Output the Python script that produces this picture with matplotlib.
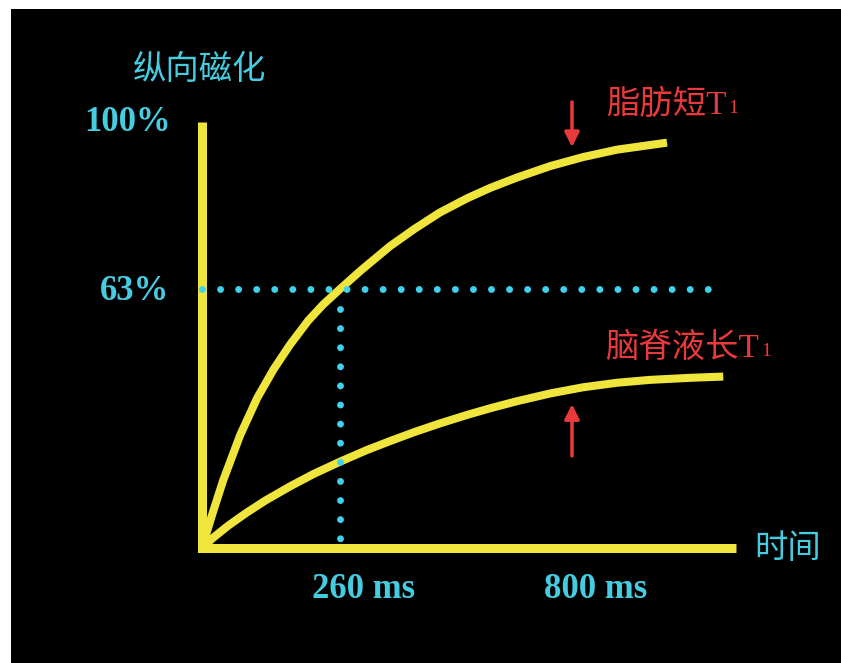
import matplotlib
matplotlib.use("Agg")
import matplotlib.pyplot as plt
from matplotlib.patches import Rectangle

# Longitudinal magnetisation recovery (time in ms, magnetisation in %)
fat_t = [0, 20, 40, 72, 104, 135, 166, 200, 228, 260, 300, 354, 400, 448,
         500, 543, 593, 656, 718, 782, 876]
fat_m = [0, 8.5, 16.5, 27.5, 36.5, 43.5, 49.5, 55.3, 59.2, 63, 67.6, 73.4, 77.6, 81.6,
         85.1, 87.6, 90.1, 92.9, 95.1, 96.9, 98.6]

csf_t = [0, 20, 50, 84, 120, 166, 210, 260, 310, 354, 400, 448, 500, 543,
         593, 656, 718, 782, 844, 920, 982]
csf_m = [0, 2.4, 5.5, 8.6, 11.6, 15.0, 18.0, 21.0, 23.8, 26.0, 28.2, 30.3, 32.4, 34.0,
         35.7, 37.6, 39.1, 40.2, 40.9, 41.4, 41.7]

t1_fat = 260          # ms, marked on the time axis
ref_level = 63        # %, 1 - 1/e
axis_top = 103.6
axis_end = 1006
ref_end = 963

y_label = "纵向磁化"
x_label = "时间"
tick_labels = ["100%", "63%", "260 ms", "800 ms"]
fat_label = "脂肪短T"
csf_label = "脑脊液长T"

YELLOW = "#F0E53C"
CYAN = "#45CCE0"
DOT = "#3ED2EE"
RED = "#E8393B"

serif = ["Liberation Serif", "DejaVu Serif"]
cjk = ["Noto Sans CJK SC", "DejaVu Sans"]

fig = plt.figure(figsize=(8.41, 6.63), dpi=100, facecolor="white")
fig.patches.append(Rectangle((11 / 841, 0), 1, 1 - 9 / 663, transform=fig.transFigure,
                             facecolor="black", edgecolor="none", zorder=-5))

ax = fig.add_axes([0, 0, 1, 1])
ax.set_zorder(1)
ax.set_facecolor("none")
ax.axis("off")
ax.set_xlim(-380.6, 1203.8)
ax.set_ylim(-27.97, 133.3)

# axes drawn as thick yellow bars
ax.plot([0, 0, axis_end], [axis_top, 0, 0], color=YELLOW, lw=6.5,
        solid_joinstyle="miter", solid_capstyle="butt", zorder=3)

# recovery curves
ax.plot(fat_t, fat_m, color=YELLOW, lw=5.8, solid_capstyle="butt",
        solid_joinstyle="round", zorder=4)
ax.plot(csf_t, csf_m, color=YELLOW, lw=5.8, solid_capstyle="butt",
        solid_joinstyle="round", zorder=4)

# dotted reference lines at 63% and 260 ms
ax.plot([0, ref_end], [ref_level, ref_level], color=DOT, lw=5,
        linestyle=(0, (0.001, 2.6)), dash_capstyle="round", zorder=5)
ax.plot([t1_fat, t1_fat], [ref_level - 4.8, 0.6], color=DOT, lw=5,
        linestyle=(0, (0.001, 2.75)), dash_capstyle="round", zorder=5)

# axis texts
ax.text(-3.8, 116.3, y_label, color=CYAN, fontsize=24, family=cjk,
        ha="center", va="center")
ax.text(1103, -0.2, x_label, color=CYAN, fontsize=24, family=cjk,
        ha="center", va="center")
ax.text(-141, axis_top, tick_labels[0], color=CYAN, fontsize=25, family=serif,
        weight="bold", ha="center", va="center")
ax.text(-127, ref_level - 0.5, tick_labels[1], color=CYAN, fontsize=25, family=serif,
        weight="bold", ha="center", va="center")
ax.text(305, -10.2, tick_labels[2], color=CYAN, fontsize=25, family=serif,
        weight="bold", ha="center", va="center")
ax.text(742, -10.2, tick_labels[3], color=CYAN, fontsize=25, family=serif,
        weight="bold", ha="center", va="center")

# curve labels with subscript "1"
fam = ["Liberation Serif", "Noto Sans CJK SC", "DejaVu Sans"]
for label, x, y in [(fat_label, 875, 107.8), (csf_label, 905, 48.6)]:
    t = ax.text(x, y, label, color=RED, fontsize=24, family=fam,
                ha="center", va="center")
    ax.annotate("1", xy=(1, 0.12), xycoords=t, xytext=(1, 0), textcoords="offset points",
                color=RED, fontsize=14, family=serif, ha="left", va="bottom")

# arrows pointing at the curves
ax.annotate("", xy=(697, 97.5), xytext=(697, 108.5),
            arrowprops=dict(arrowstyle="-|>", color=RED, lw=2.5, mutation_scale=22,
                            shrinkA=0, shrinkB=0))
ax.annotate("", xy=(697, 35.0), xytext=(697, 22.4),
            arrowprops=dict(arrowstyle="-|>", color=RED, lw=2.5, mutation_scale=22,
                            shrinkA=0, shrinkB=0))

fig.savefig("out.png", dpi=100, facecolor="white")
